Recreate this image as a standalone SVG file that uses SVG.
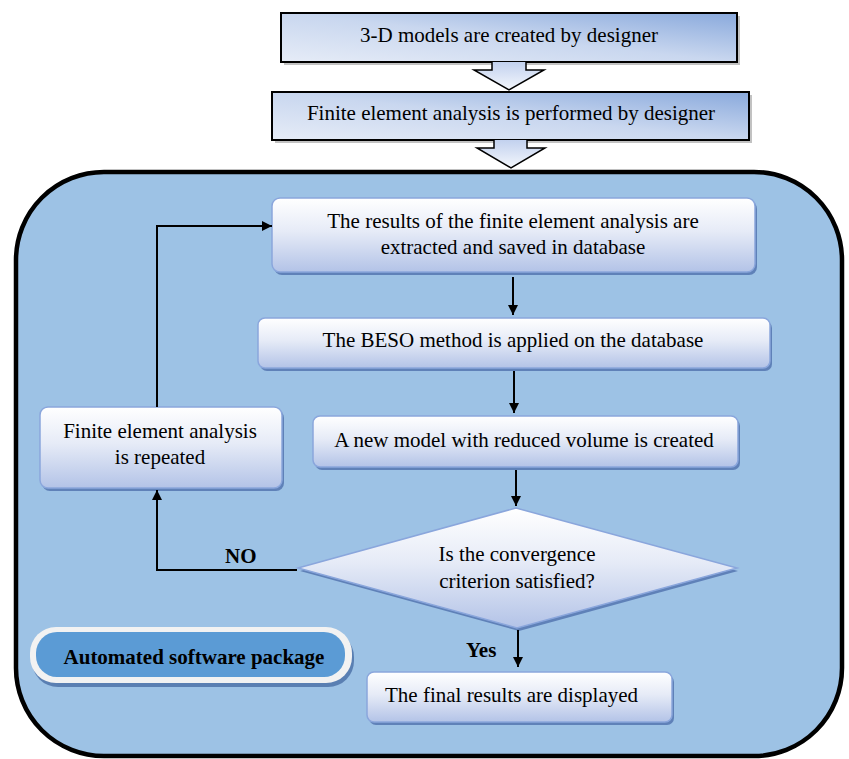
<svg xmlns="http://www.w3.org/2000/svg" width="849" height="759" viewBox="0 0 849 759">
<defs>
<linearGradient id="gTop" x1="0" y1="1" x2="1" y2="0">
<stop offset="0" stop-color="#e6ecf7"/>
<stop offset="0.5" stop-color="#c9d7ef"/>
<stop offset="1" stop-color="#89a9dc"/>
</linearGradient>
<linearGradient id="gArr" x1="0" y1="0" x2="0" y2="1">
<stop offset="0" stop-color="#c2d1ee"/>
<stop offset="1" stop-color="#f4f7fc"/>
</linearGradient>
<linearGradient id="gBox" x1="0" y1="0" x2="0" y2="1">
<stop offset="0" stop-color="#ffffff"/>
<stop offset="0.45" stop-color="#e6ebf7"/>
<stop offset="1" stop-color="#b3c3e7"/>
</linearGradient>
<marker id="ah" viewBox="0 0 10 10" refX="10" refY="5" markerWidth="10" markerHeight="10" markerUnits="userSpaceOnUse" orient="auto">
<path d="M0,0 L10,5 L0,10 z" fill="#000"/>
</marker>
</defs>
<style>
text { font-family: "Liberation Serif", "Times New Roman", serif; font-size: 21px; fill: #000; }
.c { text-anchor: middle; }
.b { font-weight: bold; }
.topbox { fill: url(#gTop); stroke: #000; stroke-width: 2; }
.topsh { fill: #8f8f8f; opacity: 0.55; }
.blk { fill: url(#gArr); stroke: #000; stroke-width: 1.5; }
.box { fill: url(#gBox); stroke: #8aa6dc; stroke-width: 1.5; }
.sh { fill: #5f81b8; }
.con { fill: none; stroke: #000; stroke-width: 2; }
</style>

<rect x="0" y="0" width="849" height="759" fill="#ffffff"/>

<g id="n-models">
<rect class="topsh" x="284" y="16" width="456" height="49"/>
<rect class="topbox" x="281" y="13" width="456" height="49"/>
<text class="c" x="509" y="42">3-D models are created by designer</text>
</g>
<g id="blockarrow1">
<path class="blk" d="M492,62 L492,70 L474,70 L509,90 L544,70 L526,70 L526,62"/>
</g>
<g id="n-fea">
<rect class="topsh" x="275" y="95" width="477" height="48"/>
<rect class="topbox" x="272" y="92" width="477" height="48"/>
<text class="c" x="511" y="120">Finite element analysis is performed by designer</text>
</g>
<g id="blockarrow2">
<path class="blk" d="M494,140 L494,148 L477,148 L511,168 L545,148 L527,148 L527,140"/>
</g>

<g id="container">
<rect x="16" y="172" width="826" height="584" rx="88" ry="88" fill="#9dc2e5" stroke="#000" stroke-width="4.5"/>
</g>

<g id="n-results">
<rect class="sh" x="274" y="201" width="483" height="74" rx="8"/>
<rect class="box" x="272" y="198" width="483" height="74" rx="8"/>
<text class="c" x="513" y="228">The results of the finite element analysis are</text>
<text class="c" x="513" y="254">extracted and saved in database</text>
</g>

<g id="n-beso">
<rect class="sh" x="260" y="321" width="512" height="50" rx="7"/>
<rect class="box" x="258" y="318" width="512" height="50" rx="7"/>
<text class="c" x="513" y="347">The BESO method is applied on the database</text>
</g>

<g id="n-newmodel">
<rect class="sh" x="315" y="419" width="425" height="51" rx="7"/>
<rect class="box" x="313" y="416" width="425" height="51" rx="7"/>
<text class="c" x="524" y="447">A new model with reduced volume is created</text>
</g>

<g id="n-decision">
<path d="M300,571 L518,511 L738,571 L519,631 z" fill="#5f81b8"/>
<path class="box" d="M298,568 L516,508 L737,568 L517,628 z"/>
<text class="c" x="517" y="561">Is the convergence</text>
<text class="c" x="517" y="588">criterion satisfied?</text>
</g>

<g id="n-repeat">
<rect class="sh" x="42" y="410" width="242" height="81" rx="8"/>
<rect class="box" x="40" y="407" width="242" height="81" rx="8"/>
<text class="c" x="160" y="438">Finite element analysis</text>
<text class="c" x="160" y="464">is repeated</text>
</g>

<g id="n-final">
<rect class="sh" x="369" y="675" width="305" height="50" rx="7"/>
<rect class="box" x="367" y="672" width="305" height="50" rx="7"/>
<text x="385" y="702">The final results are displayed</text>
</g>

<g id="n-package">
<rect x="32" y="631" width="322" height="56" rx="26" fill="#5a7fb2"/>
<rect x="30" y="627" width="322" height="56" rx="26" fill="#f2f2f2"/>
<rect x="36" y="632" width="309" height="45" rx="21" fill="#5b9bd5"/>
<text class="c b" x="194" y="664">Automated software package</text>
</g>

<g id="connectors">
<line class="con" x1="513" y1="277" x2="513" y2="315" marker-end="url(#ah)"/>
<line class="con" x1="514" y1="371" x2="514" y2="413" marker-end="url(#ah)"/>
<line class="con" x1="516" y1="470" x2="516" y2="506" marker-end="url(#ah)"/>
<line class="con" x1="518" y1="630" x2="518" y2="667" marker-end="url(#ah)"/>
<polyline class="con" points="297,570 157,570 157,490" marker-end="url(#ah)"/>
<polyline class="con" points="157,407 157,226 272,226" marker-end="url(#ah)"/>
<text class="b" x="225" y="563">NO</text>
<text class="b" x="466" y="657">Yes</text>
</g>
</svg>
